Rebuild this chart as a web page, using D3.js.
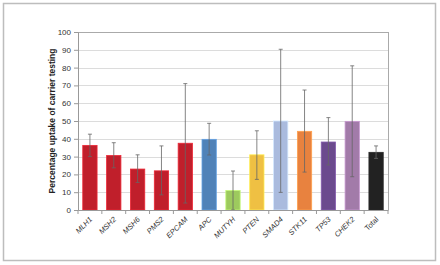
<!DOCTYPE html>
<html>
<head>
<meta charset="utf-8">
<script src="https://cdn.jsdelivr.net/npm/d3@7"></script>
<style>
  body { margin: 0; background: #fff; }
  svg { display: block; font-family: "Liberation Sans", Arial, sans-serif; }
  .axis path, .axis line { stroke: #999; }
  .axis text { fill: #333; }
</style>
</head>
<body>
<div id="chart"></div>
<script>
// data
var genes = ["MLH1", "MSH2", "MSH6", "PMS2", "EPCAM", "APC", "MUTYH", "PTEN", "SMAD4", "STK11", "TP53", "CHEK2", "Total"];
var uptake = [36.3, 30.6, 23, 22, 37.5, 39.7, 10.9, 31, 50, 44.2, 38.2, 49.8, 32.4];
var errLow = [30, 23.7, 15.5, 8.5, 3.9, 30.9, 0, 17.2, 9.9, 21.3, 25.3, 18.7, 29];
var errHigh = [42.6, 37.8, 31, 36, 71, 48.7, 21.9, 44.5, 90.3, 67.4, 51.9, 81, 36];
var barColors = ["#c01f2b", "#c01f2b", "#c01f2b", "#c01f2b", "#c01f2b", "#5082b8", "#9dca5e", "#efc043", "#aabbde", "#e8823f", "#6b4a8e", "#a27ba9", "#222222"];
var yTicks = [0, 10, 20, 30, 40, 50, 60, 70, 80, 90, 100];

var W = 440, H = 265;
var margin = {top: 32, right: 52, bottom: 55, left: 78};
var width = W - margin.left - margin.right,
    height = H - margin.top - margin.bottom;

var svg = d3.select("#chart").append("svg")
    .attr("width", W)
    .attr("height", H);

// outer frame
svg.append("rect")
    .attr("x", 3.5).attr("y", 3.5)
    .attr("width", 432).attr("height", 257)
    .attr("fill", "none")
    .attr("stroke", "#bdbdbd")
    .attr("stroke-width", 1.5);

var g = svg.append("g")
    .attr("transform", "translate(" + margin.left + "," + margin.top + ")");

var x = d3.scaleBand()
    .domain(genes)
    .range([0, width])
    .paddingInner(0.4)
    .paddingOuter(0.2);

var y = d3.scaleLinear()
    .domain([0, 100])
    .range([height, 0]);

// gridlines
g.selectAll(".grid")
    .data(yTicks.slice(1))
    .enter().append("line")
    .attr("class", "grid")
    .attr("x1", 0).attr("x2", width)
    .attr("y1", function(d) { return Math.round(y(d)) + 0.5; })
    .attr("y2", function(d) { return Math.round(y(d)) + 0.5; })
    .attr("stroke", function(d) { return d == 100 ? "#aaa" : "#dcdcdc"; })
    .attr("stroke-width", function(d) { return d == 100 ? 1 : 1.2; });

// right border of plot
g.append("line")
    .attr("x1", width + 0.5).attr("x2", width + 0.5)
    .attr("y1", 0).attr("y2", height)
    .attr("stroke", "#aaa");

// bars
var data = genes.map(function(d, i) {
    return {gene: d, v: uptake[i], lo: errLow[i], hi: errHigh[i], c: barColors[i]};
});

g.selectAll(".bar")
    .data(data)
    .enter().append("rect")
    .attr("class", "bar")
    .attr("x", function(d) { return x(d.gene); })
    .attr("y", function(d) { return y(d.v); })
    .attr("width", x.bandwidth())
    .attr("height", function(d) { return height - y(d.v); })
    .attr("fill", function(d) { return d.c; })
    .attr("stroke", function(d) { return d3.color(d.c).brighter(0.6); })
    .attr("stroke-width", 0.8);

// error bars
var eb = g.selectAll(".err")
    .data(data)
    .enter().append("g")
    .attr("class", "err")
    .attr("stroke", "#666")
    .attr("stroke-width", 0.8);

eb.append("line")
    .attr("x1", function(d) { return x(d.gene) + x.bandwidth() / 2; })
    .attr("x2", function(d) { return x(d.gene) + x.bandwidth() / 2; })
    .attr("y1", function(d) { return y(d.lo); })
    .attr("y2", function(d) { return y(d.hi); });

eb.selectAll(".cap")
    .data(function(d) { return [d.lo, d.hi].map(function(v) { return {gene: d.gene, v: v}; }); })
    .enter().append("line")
    .attr("class", "cap")
    .attr("x1", function(d) { return x(d.gene) + x.bandwidth() / 2 - 2; })
    .attr("x2", function(d) { return x(d.gene) + x.bandwidth() / 2 + 2; })
    .attr("y1", function(d) { return y(d.v); })
    .attr("y2", function(d) { return y(d.v); });

// axes
var yAxis = d3.axisLeft(y).tickValues(yTicks).tickSize(4).tickPadding(3);
g.append("g")
    .attr("class", "y-axis axis")
    .call(yAxis)
    .call(function(s) { s.selectAll("text").style("font-size", "8px"); });

var xAxis = d3.axisBottom(x).tickSize(0).tickPadding(6);
var xg = g.append("g")
    .attr("class", "x-axis axis")
    .attr("transform", "translate(0," + height + ")")
    .call(xAxis);

// tick marks between categories
xg.selectAll(".sep")
    .data(d3.range(genes.length + 1))
    .enter().append("line")
    .attr("class", "sep")
    .attr("x1", function(i) { return i * x.step() + (x.paddingOuter() - x.paddingInner() / 2) * x.step(); })
    .attr("x2", function(i) { return i * x.step() + (x.paddingOuter() - x.paddingInner() / 2) * x.step(); })
    .attr("y1", 0).attr("y2", 4)
    .attr("stroke", "#999");

xg.selectAll(".tick text")
    .style("font-size", "7.5px")
    .style("font-style", function(d) { return d == "Total" ? "normal" : "italic"; })
    .attr("text-anchor", "end")
    .attr("x", 0).attr("y", 0)
    .attr("dy", "0.35em")
    .attr("transform", "translate(1,8) rotate(-45)");

// y title
g.append("text")
    .attr("transform", "translate(-23," + (height / 2) + ") rotate(-90)")
    .attr("text-anchor", "middle")
    .style("font-size", "8.5px")
    .style("font-weight", "bold")
    .attr("fill", "#222")
    .text("Percentage uptake of carrier testing");
</script>
</body>
</html>
